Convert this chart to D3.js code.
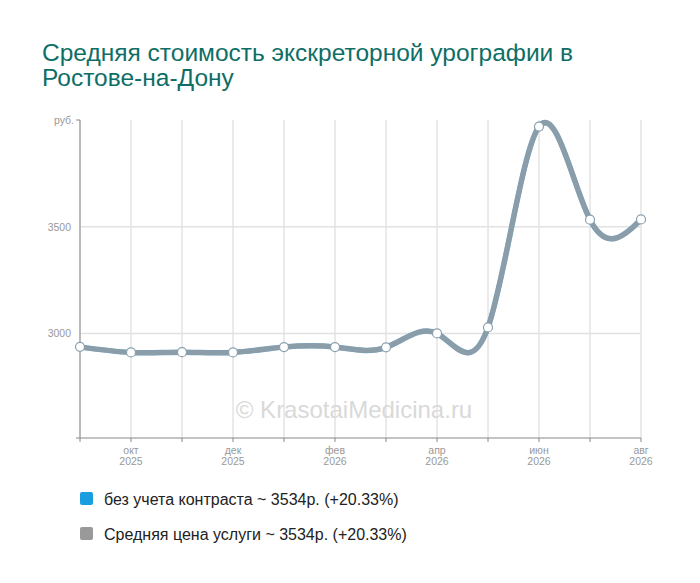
<!DOCTYPE html>
<html><head><meta charset="utf-8">
<script src="https://cdn.jsdelivr.net/npm/d3@7"></script>
<style>body{margin:0;background:#fff;font-family:Arial,"Liberation Sans",sans-serif}</style>
</head><body>
<svg id="c" width="700" height="583"></svg>
<script>
const months = ["сен","окт","ноя","дек","янв","фев","мар","апр","май","июн","июл","авг"];
const years = ["2025","2025","2025","2025","2026","2026","2026","2026","2026","2026","2026","2026"];
const seriesContrastFree = [2937,2911,2912,2911,2936,2936,2935,3000,3028,3969,3533,3534];
const seriesAverage = [2937,2911,2912,2911,2936,2936,2935,3000,3028,3969,3533,3534];
const yTicks = [3000,3500];
const legendLabels = ["без учета контраста ~ 3534р. (+20.33%)","Средняя цена услуги ~ 3534р. (+20.33%)"];
const legendColors = ["#1a9ee0","#999999"];

const svg = d3.select("#c");
const L=80,R=641,T=120,B=438;
const x = d3.scalePoint().domain(d3.range(months.length)).range([L,R]);
const y = d3.scaleLinear().domain([2510,4000]).range([B,T]);

// title
const title = svg.append("text").attr("x",42).attr("fill","#0e6e66").style("font-size","24.5px");
title.append("tspan").attr("x",42).attr("y",61).text("Средняя стоимость экскреторной урографии в");
title.append("tspan").attr("x",42).attr("y",86).text("Ростове-на-Дону");

// grid
svg.append("g").selectAll("line").data(d3.range(months.length)).join("line")
  .attr("x1",d=>x(d)).attr("x2",d=>x(d)).attr("y1",T).attr("y2",B)
  .attr("stroke","#d6d6d6").attr("stroke-width",1);
svg.append("g").selectAll("line").data(yTicks).join("line")
  .attr("x1",L).attr("x2",R).attr("y1",d=>y(d)).attr("y2",d=>y(d))
  .attr("stroke","#e2e2e2").attr("stroke-width",1.5);

// watermark
svg.append("text").attr("x",354).attr("y",418).attr("text-anchor","middle")
  .attr("fill","#d9d9d9").style("font-size","24px").text("© KrasotaiMedicina.ru");

// axes
svg.append("line").attr("x1",L).attr("x2",L).attr("y1",T).attr("y2",B).attr("stroke","#888");
svg.append("line").attr("x1",L).attr("x2",R).attr("y1",B).attr("y2",B).attr("stroke","#888");
svg.append("line").attr("x1",L-4).attr("x2",L).attr("y1",T).attr("y2",T).attr("stroke","#888");
svg.append("line").attr("x1",L-4).attr("x2",L).attr("y1",B).attr("y2",B).attr("stroke","#888");
svg.append("g").selectAll("line").data(d3.range(months.length)).join("line")
  .attr("x1",d=>x(d)).attr("x2",d=>x(d)).attr("y1",B).attr("y2",B+4).attr("stroke","#888");
svg.append("text").attr("x",L-6).attr("y",T+4).attr("text-anchor","end")
  .attr("fill","#999").style("font-size","10.5px").text("руб.");
svg.append("g").selectAll("text").data(yTicks).join("text")
  .attr("x",L-9).attr("y",d=>y(d)+4).attr("text-anchor","end")
  .attr("fill","#999").style("font-size","10.5px").text(d=>d);
const xl = svg.append("g").selectAll("text").data(d3.range(1,months.length,2)).join("text")
  .attr("text-anchor","middle").attr("fill","#999").style("font-size","10.5px");
xl.append("tspan").attr("x",d=>x(d)).attr("y",B+16).text(d=>months[d]);
xl.append("tspan").attr("x",d=>x(d)).attr("y",B+27).text(d=>years[d]);

// lines
const line = d3.line().x((d,i)=>x(i)).y(d=>y(d)).curve(d3.curveNatural);
svg.append("path").attr("d",line(seriesContrastFree)).attr("fill","none")
  .attr("stroke","#6fa3c4").attr("stroke-width",5.5);
svg.append("path").attr("d",line(seriesAverage)).attr("fill","none")
  .attr("stroke","#959a9e").attr("stroke-width",5).attr("stroke-opacity",0.7);
svg.append("g").selectAll("circle").data(seriesAverage).join("circle")
  .attr("cx",(d,i)=>x(i)).attr("cy",d=>y(d)).attr("r",4.5)
  .attr("fill","#fff").attr("stroke","#8aa0ad").attr("stroke-width",1.2);

// legend
const lg = svg.append("g").selectAll("g").data(legendLabels).join("g")
  .attr("transform",(d,i)=>`translate(80,${492+i*35})`);
lg.append("rect").attr("width",13).attr("height",13).attr("rx",2).attr("fill",(d,i)=>legendColors[i]);
lg.append("text").attr("x",24).attr("y",12.5).attr("fill","#222").style("font-size","16px").text(d=>d);
</script>
</body></html>
